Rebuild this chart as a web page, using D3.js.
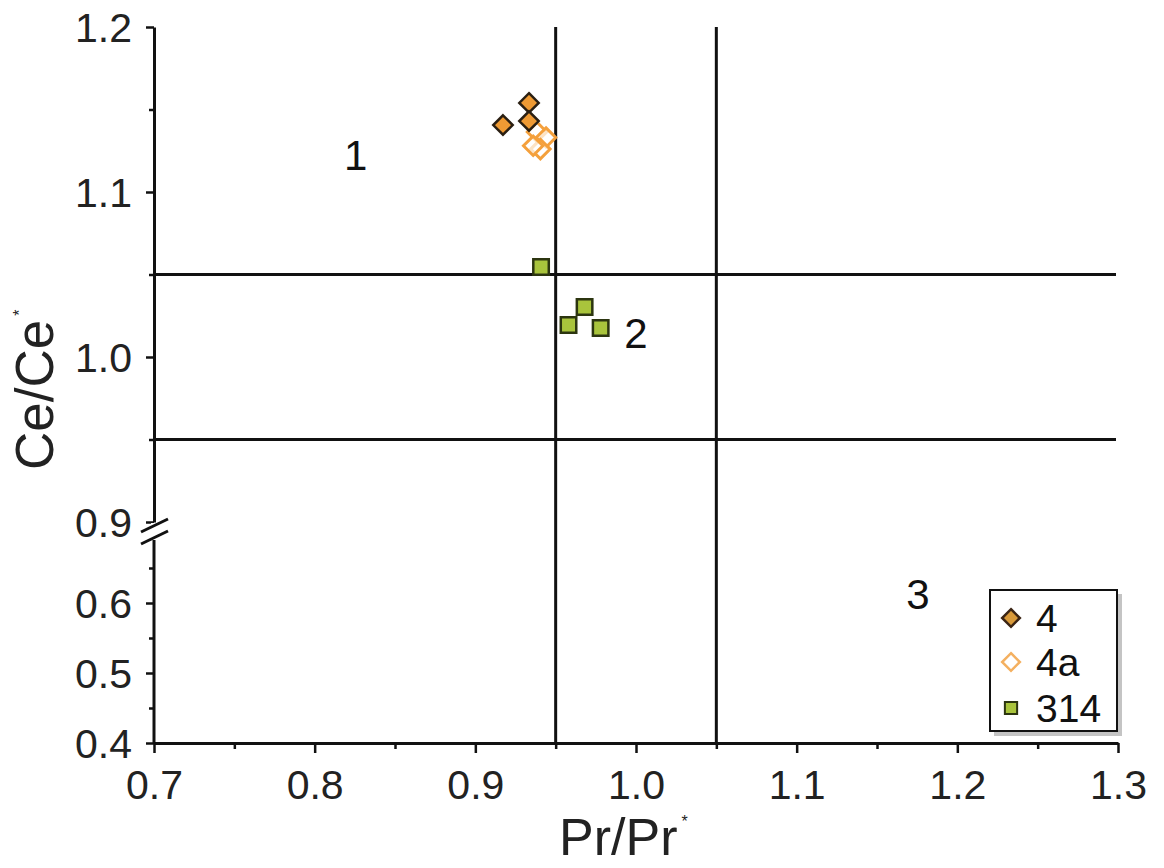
<!DOCTYPE html>
<html>
<head>
<meta charset="utf-8">
<script src="https://cdn.jsdelivr.net/npm/d3@7"></script>
<style>
  html, body { margin: 0; padding: 0; background: #fff; }
  svg { display: block; font-family: "Liberation Sans", Arial, sans-serif; }
</style>
</head>
<body>
<svg id="chart" width="1164" height="868"></svg>
<script>
// Pr/Pr* vs Ce/Ce* discrimination diagram
const series4x  = [0.9172, 0.9334, 0.9334];
const series4y  = [1.1406, 1.1540, 1.1430];
const series4ax = [0.9384, 0.9440, 0.9405, 0.9360];
const series4ay = [1.1364, 1.1330, 1.1260, 1.1280];
const series314x = [0.9409, 0.9680, 0.9580, 0.9780];
const series314y = [1.0545, 1.0303, 1.0194, 1.0176];

const xTicks = [0.7, 0.8, 0.9, 1.0, 1.1, 1.2, 1.3];
const xMinor = [0.75, 0.85, 0.95, 1.05, 1.15, 1.25];
const yUpperTicks = [0.9, 1.0, 1.1, 1.2];
const yUpperMinor = [0.95, 1.05, 1.15];
const yLowerTicks = [0.4, 0.5, 0.6];
const yLowerMinor = [0.45, 0.55, 0.65];

const boundaryX = [0.95, 1.05];
const boundaryY = [1.05, 0.95];
const fieldLabels = ["1", "2", "3"];
const fieldX = [0.8255, 1.0, 1.1755];
const fieldY = [1.1224, 1.0145, 0.613];
const legendNames = ["4", "4a", "314"];

const svg = d3.select("#chart");

const x = d3.scaleLinear().domain([0.7, 1.3]).range([154, 1118]);
const yUp = d3.scaleLinear().domain([0.9, 1.2]).range([522, 27]);
const yLo = d3.scaleLinear().domain([0.4, 0.6]).range([743, 603]);
const y = v => v >= 0.85 ? yUp(v) : yLo(v);
const fmt = d3.format(".1f");
const TICK_FONT = 41;

// boundary lines
const gB = svg.append("g").attr("stroke", "#111").attr("stroke-width", 3);
boundaryX.forEach(v => {
  gB.append("line").attr("x1", x(v)).attr("x2", x(v)).attr("y1", yUp(1.2)).attr("y2", yLo(0.4));
});
boundaryY.forEach(v => {
  gB.append("line").attr("x1", x(0.7)).attr("x2", 1116).attr("y1", yUp(v)).attr("y2", yUp(v));
});

// x axis
const gx = svg.append("g").attr("transform", `translate(0,${yLo(0.4)})`)
  .call(d3.axisBottom(x).tickValues(xTicks).tickFormat(fmt).tickSize(10).tickSizeOuter(0));
gx.selectAll(".tick text").attr("y", 56).attr("dy", 0);
gx.append("g").call(d3.axisBottom(x).tickValues(xMinor).tickFormat("").tickSize(6))
  .select(".domain").remove();

// upper y axis
const gyU = svg.append("g").attr("transform", `translate(${x(0.7)},0)`)
  .call(d3.axisLeft(yUp).tickValues(yUpperTicks).tickFormat(fmt).tickSize(8).tickSizeOuter(0).tickPadding(14));
gyU.append("g").call(d3.axisLeft(yUp).tickValues(yUpperMinor).tickFormat("").tickSize(5))
  .select(".domain").remove();

// lower y axis (domain line stops below the break)
const gyL = svg.append("g").attr("transform", `translate(${x(0.7)},0)`)
  .call(d3.axisLeft(yLo).tickValues(yLowerTicks).tickFormat(fmt).tickSize(8).tickSizeOuter(0).tickPadding(14));
gyL.select(".domain").attr("d", `M0,${yLo(0.4)}V540`);
gyL.append("g").call(d3.axisLeft(yLo).tickValues(yLowerMinor).tickFormat("").tickSize(5))
  .select(".domain").remove();

svg.selectAll(".domain").attr("stroke", "#111").attr("stroke-width", 3);
svg.selectAll(".tick line").attr("stroke", "#111").attr("stroke-width", 2.5);
svg.selectAll(".tick text").attr("font-size", TICK_FONT).attr("fill", "#222")
  .attr("font-family", "'Liberation Sans', Arial, sans-serif");
gyU.selectAll(".tick text").attr("dy", "0.36em");
gyL.selectAll(".tick text").attr("dy", "0.36em");

// axis break marks
const bx = x(0.7);
const gBreak = svg.append("g");
gBreak.append("rect").attr("x", bx - 3).attr("y", 523).attr("width", 6).attr("height", 17).attr("fill", "#fff");
[0, 12].forEach(dy => {
  gBreak.append("line")
    .attr("x1", bx - 13).attr("y1", 532 + dy).attr("x2", bx + 14).attr("y2", 519 + dy)
    .attr("stroke", "#111").attr("stroke-width", 3);
});

// field numbers
svg.append("g").selectAll("text").data(fieldLabels).join("text")
  .attr("x", (d, i) => x(fieldX[i])).attr("y", (d, i) => y(fieldY[i]))
  .attr("text-anchor", "middle").attr("dy", "0.36em")
  .attr("font-size", 42).attr("fill", "#111").text(d => d);

// markers
const diamond = d3.symbol().type(d3.symbolDiamond2).size(240);
const square = d3.symbol().type(d3.symbolSquare).size(240);

const pts4a = series4ax.map((v, i) => [v, series4ay[i]]);
svg.append("g").selectAll("path").data(pts4a).join("path")
  .attr("d", diamond).attr("transform", d => `translate(${x(d[0])},${y(d[1])})`)
  .attr("fill", "#fff").attr("fill-opacity", 0.7).attr("stroke", "#f4a03c").attr("stroke-width", 3);

const pts4 = series4x.map((v, i) => [v, series4y[i]]);
svg.append("g").selectAll("path").data(pts4).join("path")
  .attr("d", diamond).attr("transform", d => `translate(${x(d[0])},${y(d[1])})`)
  .attr("fill", "#ee9a34").attr("stroke", "#2a1f12").attr("stroke-width", 2.5);

const pts314 = series314x.map((v, i) => [v, series314y[i]]);
svg.append("g").selectAll("path").data(pts314).join("path")
  .attr("d", square).attr("transform", d => `translate(${x(d[0])},${y(d[1])})`)
  .attr("fill", "#a9c43c").attr("stroke", "#2c3510").attr("stroke-width", 2.5);

// legend
const lg = svg.append("g");
lg.append("rect").attr("x", 994).attr("y", 594).attr("width", 128).attr("height", 142).attr("fill", "#c4c4c4");
lg.append("rect").attr("x", 990).attr("y", 590).attr("width", 127).attr("height", 141)
  .attr("fill", "#fff").attr("stroke", "#111").attr("stroke-width", 2);
const rowY = [618, 662, 708];
const legendSym = [
  {d: d3.symbol().type(d3.symbolDiamond2).size(200), fill: "#d99a3a", stroke: "#3b2414", sw: 2.5},
  {d: d3.symbol().type(d3.symbolDiamond2).size(200), fill: "#fff", stroke: "#f4b060", sw: 2.5},
  {d: d3.symbol().type(d3.symbolSquare).size(150), fill: "#a9c43c", stroke: "#2c3510", sw: 2}
];
legendNames.forEach((n, i) => {
  lg.append("path").attr("d", legendSym[i].d).attr("transform", `translate(1011,${rowY[i]})`)
    .attr("fill", legendSym[i].fill).attr("stroke", legendSym[i].stroke).attr("stroke-width", legendSym[i].sw);
  lg.append("text").attr("x", 1036).attr("y", rowY[i]).attr("dy", "0.36em")
    .attr("font-size", 39).attr("fill", "#111").text(n);
});

// axis titles
const xt = svg.append("text").attr("x", 559).attr("y", 855)
  .attr("font-size", 52).attr("fill", "#222");
xt.append("tspan").text("Pr/Pr");
xt.append("tspan").attr("font-size", 16).attr("dx", 4).attr("dy", -28).text("*");

const yt = svg.append("text").attr("transform", "translate(53,470) rotate(-90)")
  .attr("font-size", 53).attr("fill", "#222");
yt.append("tspan").text("Ce/Ce");
yt.append("tspan").attr("font-size", 16).attr("dx", 4).attr("dy", -28).text("*");
</script>
</body>
</html>
